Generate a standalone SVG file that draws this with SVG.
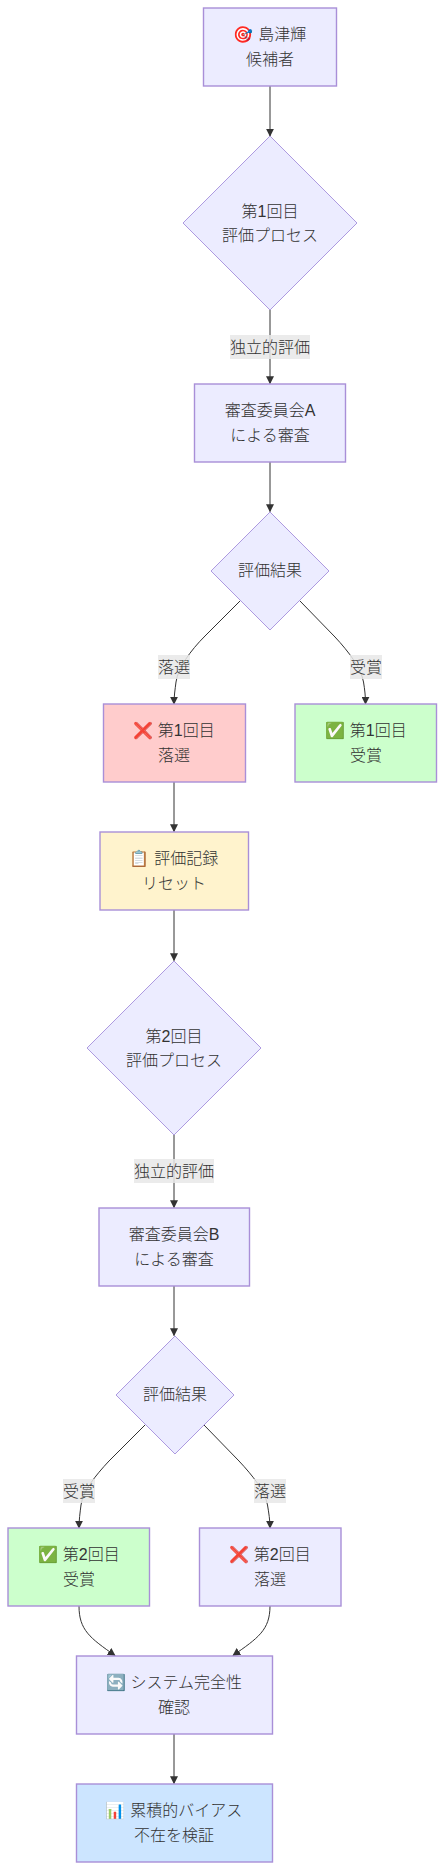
<svg xmlns="http://www.w3.org/2000/svg" width="444" height="1870" viewBox="0 0 444 1870">
<style>
text{font-family:"Liberation Sans","Noto Sans CJK JP","Noto Color Emoji",sans-serif;font-size:16px;font-weight:300;fill:#333;text-anchor:middle}
.n{fill:#ececff;stroke:#ad9ae0;stroke-width:1}
.r{stroke-width:1.4;stroke:#a98fd8}
.e{fill:none;stroke:#333;stroke-width:1;marker-end:url(#a)}
.l{fill:#e8e8e8;fill-opacity:.85;stroke:none}
</style>
<defs><marker id="a" viewBox="0 0 10 10" refX="9" refY="5" markerUnits="userSpaceOnUse" markerWidth="8" markerHeight="8" orient="auto"><path d="M0,0L10,5L0,10z" fill="#333"/></marker></defs>
<g id="connectors">
<path class="e" d="M270,86V136"/>
<path class="e" d="M270,310V383.500"/>
<path class="e" d="M270,462V511.500"/>
<path class="e" d="M240,601L205,636C190,651 178,668 176,682C175,690 174,696 174,704"/>
<path class="e" d="M300,601L335,637C349,652 361,668 363.500,682C364.800,690 365.500,696 365.500,704"/>
<path class="e" d="M174,782V831.500"/>
<path class="e" d="M174,910V960.500"/>
<path class="e" d="M174,1135V1207.500"/>
<path class="e" d="M174,1286V1335.500"/>
<path class="e" d="M145,1425L109,1461C95,1476 83,1491 81,1505C80,1513 79,1520 79,1528"/>
<path class="e" d="M204,1425L239,1461C253,1476 265,1491 267.500,1505C268.800,1513 270,1520 270,1528"/>
<path class="e" d="M79,1606C79,1630 90,1638 115,1655.500"/>
<path class="e" d="M270,1606C270,1630 258,1638 233,1655.500"/>
<path class="e" d="M174,1734V1783.500"/>
</g>
<g id="labels">
<rect class="l" x="230" y="335" width="80" height="24"/><text x="270" y="353">独立的評価</text>
<rect class="l" x="158" y="655" width="32" height="24"/><text x="174" y="673">落選</text>
<rect class="l" x="350" y="655" width="32" height="24"/><text x="366" y="673">受賞</text>
<rect class="l" x="134" y="1159" width="80" height="24"/><text x="174" y="1177">独立的評価</text>
<rect class="l" x="63" y="1479" width="32" height="24"/><text x="79" y="1497">受賞</text>
<rect class="l" x="254" y="1479" width="32" height="24"/><text x="270" y="1497">落選</text>
</g>
<g id="A"><rect class="n r" x="203.500" y="8" width="133" height="78"/><text x="270" y="40">🎯 島津輝</text><text x="270" y="65">候補者</text></g>
<g id="B"><polygon class="n" points="270,136 357,223 270,310 183,223"/><text x="270" y="217">第1回目</text><text x="270" y="241">評価プロセス</text></g>
<g id="C"><rect class="n r" x="194.500" y="384" width="151" height="78"/><text x="270" y="416">審査委員会A</text><text x="270" y="441">による審査</text></g>
<g id="D"><polygon class="n" points="270,512 329,571 270,630 211,571"/><text x="270" y="576">評価結果</text></g>
<g id="E"><rect class="n r" style="fill:#ffcccc" x="103.500" y="704" width="142" height="78"/><text x="174" y="736">❌ 第1回目</text><text x="174" y="761">落選</text></g>
<g id="F"><rect class="n r" style="fill:#ccffcc" x="295" y="704" width="141.500" height="78"/><text x="366" y="736">✅ 第1回目</text><text x="366" y="761">受賞</text></g>
<g id="G"><rect class="n r" style="fill:#fff3cd" x="100" y="832" width="148.500" height="78"/><text x="174" y="864">📋 評価記録</text><text x="174" y="889">リセット</text></g>
<g id="H"><polygon class="n" points="174,961 261,1048 174,1135 87,1048"/><text x="174" y="1042">第2回目</text><text x="174" y="1066">評価プロセス</text></g>
<g id="I"><rect class="n r" x="99" y="1208" width="150.500" height="78"/><text x="174" y="1240">審査委員会B</text><text x="174" y="1265">による審査</text></g>
<g id="J"><polygon class="n" points="175,1336 234,1395 175,1454 116,1395"/><text x="175" y="1400">評価結果</text></g>
<g id="K"><rect class="n r" style="fill:#ccffcc" x="8" y="1528" width="141.500" height="78"/><text x="79" y="1560">✅ 第2回目</text><text x="79" y="1585">受賞</text></g>
<g id="L"><rect class="n r" x="199.500" y="1528" width="141.500" height="78"/><text x="270" y="1560">❌ 第2回目</text><text x="270" y="1585">落選</text></g>
<g id="M"><rect class="n r" x="76.500" y="1656" width="196" height="78"/><text x="174" y="1688">🔄 システム完全性</text><text x="174" y="1713">確認</text></g>
<g id="O"><rect class="n r" style="fill:#cce5ff" x="76.500" y="1784" width="196" height="78"/><text x="174" y="1816">📊 累積的バイアス</text><text x="174" y="1841">不在を検証</text></g>
</svg>
